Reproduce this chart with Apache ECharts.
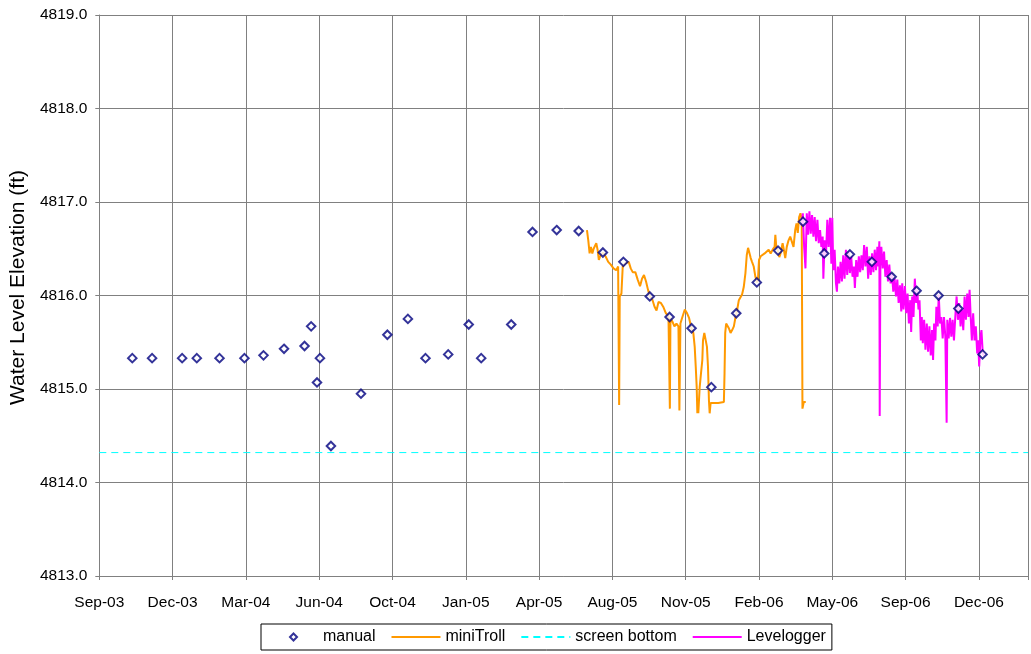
<!DOCTYPE html>
<html><head><meta charset="utf-8">
<script src="https://cdn.jsdelivr.net/npm/echarts@6/dist/echarts.min.js"></script>
<style>html,body{margin:0;padding:0;background:#fff}#c{width:1031px;height:654px}</style>
</head><body><div id="c"></div>
<script>
// All x values are days after 1 Sep 2003 (the axis origin); y values are elevations in ft.
const xTickLabels = ['Sep-03','Dec-03','Mar-04','Jun-04','Oct-04','Jan-05','Apr-05','Aug-05','Nov-05','Feb-06','May-06','Sep-06','Dec-06'];
const seriesNames = ['manual','miniTroll','screen bottom','Levelogger'];

const manualDays = [45,72,113,133,164,198,224,252,280,289,297,301,316,357,393,421,445,476,504,521,562,591,624,654,687,715,751,778,808,835,869,897,926,960,989,1024,1054,1081,1115,1145,1172,1205];
const manualLevels = [4815.33,4815.33,4815.33,4815.33,4815.33,4815.33,4815.36,4815.43,4815.46,4815.67,4815.07,4815.33,4814.39,4814.95,4815.58,4815.75,4815.33,4815.37,4815.69,4815.33,4815.69,4816.68,4816.70,4816.69,4816.46,4816.36,4815.99,4815.77,4815.65,4815.02,4815.81,4816.14,4816.48,4816.79,4816.45,4816.44,4816.36,4816.20,4816.05,4816.00,4815.86,4815.37];

const miniTroll = [[665.3,4816.70],[667.1,4816.59],[668.9,4816.45],[670.7,4816.52],[672.6,4816.45],[674.4,4816.50],[676.1,4816.49],[678.0,4816.56],[679.8,4816.49],[681.5,4816.38],[683.4,4816.42],[687.0,4816.46],[690.6,4816.42],[694.3,4816.36],[697.8,4816.33],[701.5,4816.29],[705.2,4816.27],[707.8,4816.31],[709.2,4814.83],[710.0,4815.99],[712.3,4816.02],[714.1,4816.31],[716.8,4816.34],[719.5,4816.33],[722.3,4816.36],[725.0,4816.29],[727.7,4816.25],[731.3,4816.25],[734.5,4816.17],[737.7,4816.10],[740.4,4816.18],[743.1,4816.22],[745.9,4816.15],[748.6,4816.06],[751.3,4815.99],[754.8,4815.95],[757.5,4815.88],[760.2,4815.84],[762.9,4815.93],[766.2,4815.92],[769.3,4815.88],[773.0,4815.81],[776.5,4815.78],[777.9,4815.77],[778.4,4814.79],[779.2,4815.76],[781.9,4815.72],[784.6,4815.67],[787.4,4815.70],[790.1,4815.67],[791.4,4814.77],[792.8,4815.70],[795.5,4815.77],[798.8,4815.85],[801.9,4815.81],[804.6,4815.76],[807.7,4815.65],[810.4,4815.60],[812.3,4815.45],[813.7,4815.24],[815.0,4815.02],[815.9,4814.74],[816.4,4814.88],[817.2,4814.74],[819.1,4815.02],[820.9,4815.17],[822.7,4815.31],[823.6,4815.52],[825.4,4815.60],[827.3,4815.58],[829.0,4815.45],[830.4,4815.24],[831.7,4814.88],[832.7,4814.74],[834.0,4814.85],[836.2,4814.85],[844.4,4814.85],[852.1,4814.86],[853.0,4815.17],[853.9,4815.60],[855.2,4815.70],[857.1,4815.71],[858.9,4815.65],[861.2,4815.60],[863.4,4815.63],[865.7,4815.67],[868.0,4815.77],[870.1,4815.84],[872.5,4815.95],[874.7,4815.97],[876.9,4816.01],[879.2,4816.09],[881.5,4816.24],[883.3,4816.43],[885.1,4816.51],[886.9,4816.49],[888.7,4816.40],[890.5,4816.36],[892.8,4816.31],[895.1,4816.20],[897.3,4816.14],[898.6,4816.17],[900.0,4816.38],[902.3,4816.42],[905.0,4816.42],[907.7,4816.45],[910.4,4816.43],[913.2,4816.49],[915.9,4816.45],[918.6,4816.49],[921.3,4816.52],[922.3,4816.65],[923.6,4816.52],[925.8,4816.48],[927.7,4816.41],[929.4,4816.45],[932.2,4816.56],[933.9,4816.49],[935.8,4816.40],[937.9,4816.52],[940.3,4816.59],[942.6,4816.63],[944.8,4816.65],[947.1,4816.52],[949.4,4816.70],[951.2,4816.77],[952.9,4816.67],[954.8,4816.84],[956.6,4816.88],[958.3,4816.81],[959.3,4814.79],[961.1,4814.86],[963.8,4814.86]];

const screenBottom = [[0,4814.32],[1267,4814.32]];

const levelogger = [[958.3,4816.75],[959.8,4816.88],[961.6,4816.52],[963.4,4816.29],[965.2,4816.88],[967.0,4816.65],[968.8,4816.90],[970.6,4816.66],[972.4,4816.86],[974.2,4816.63],[976.0,4816.84],[977.8,4816.58],[979.7,4816.81],[981.5,4816.56],[983.3,4816.70],[985.1,4816.52],[986.9,4816.63],[987.8,4816.18],[989.6,4816.59],[991.4,4816.43],[993.2,4816.81],[995.0,4816.52],[996.9,4816.83],[998.7,4816.34],[1000.0,4816.83],[1001.4,4816.27],[1003.2,4816.49],[1005.0,4816.13],[1006.3,4816.04],[1007.7,4816.31],[1009.5,4816.13],[1011.3,4816.36],[1013.1,4816.15],[1014.9,4816.43],[1016.7,4816.18],[1018.6,4816.49],[1020.4,4816.22],[1022.2,4816.47],[1024.0,4816.24],[1025.8,4816.42],[1027.6,4816.20],[1029.4,4816.31],[1030.8,4816.08],[1032.6,4816.38],[1034.4,4816.20],[1036.2,4816.42],[1038.0,4816.25],[1039.8,4816.43],[1041.6,4816.27],[1043.4,4816.54],[1045.2,4816.31],[1047.1,4816.52],[1048.9,4816.18],[1050.7,4816.42],[1052.5,4816.22],[1054.3,4816.45],[1056.1,4816.25],[1057.9,4816.49],[1059.7,4816.27],[1061.5,4816.52],[1062.9,4816.31],[1064.2,4816.58],[1064.7,4814.71],[1065.6,4816.31],[1066.9,4816.52],[1068.8,4816.29],[1070.6,4816.47],[1072.4,4816.20],[1074.2,4816.38],[1076.0,4816.15],[1077.8,4816.33],[1079.6,4816.13],[1081.4,4816.24],[1083.2,4816.04],[1085.0,4816.18],[1086.9,4815.99],[1088.7,4816.17],[1090.5,4815.92],[1092.3,4816.11],[1094.1,4815.83],[1095.4,4816.13],[1097.2,4815.85],[1099.1,4816.10],[1100.9,4815.81],[1102.7,4816.02],[1104.5,4815.70],[1106.3,4815.95],[1107.6,4815.61],[1109.0,4815.99],[1110.8,4815.77],[1112.6,4816.18],[1114.4,4815.92],[1115.8,4816.06],[1117.6,4815.85],[1119.0,4815.95],[1120.8,4815.52],[1122.1,4815.77],[1123.5,4815.49],[1125.3,4815.74],[1127.1,4815.42],[1128.9,4815.70],[1130.7,4815.40],[1132.5,4815.67],[1134.3,4815.36],[1136.1,4815.63],[1137.5,4815.31],[1138.9,4815.70],[1140.7,4815.52],[1142.0,4815.88],[1143.8,4815.67],[1145.2,4816.01],[1147.0,4815.70],[1148.8,4815.77],[1150.6,4815.54],[1152.4,4815.77],[1154.2,4815.56],[1156.0,4814.64],[1156.9,4815.74],[1158.8,4815.54],[1160.6,4815.76],[1162.4,4815.56],[1164.2,4815.74],[1166.0,4815.52],[1167.8,4815.77],[1169.6,4815.99],[1171.4,4815.74],[1173.2,4815.92],[1175.0,4815.67],[1176.8,4815.85],[1178.7,4815.63],[1180.5,4815.99],[1182.3,4815.74],[1184.1,4816.02],[1185.9,4815.77],[1187.3,4816.06],[1188.6,4815.81],[1190.4,4815.52],[1192.2,4815.81],[1194.0,4815.52],[1195.8,4815.67],[1197.7,4815.38],[1199.0,4815.52],[1200.4,4815.24],[1202.2,4815.56],[1203.5,4815.63],[1205.3,4815.38],[1207.2,4815.35]];

const FONT = 'Liberation Sans, Arial, sans-serif';
const GRID_GRAY = '#808080';
// legend glyph for "manual": small diamond centred in the 49x8 legend icon box
const DIAMOND_ICON = 'path://M0,0M49,8M24.5,0.5L28,4L24.5,7.5L21,4Z';

const chart = echarts.init(document.getElementById('c'), null, {renderer: 'canvas'});
chart.setOption({
  animation: false,
  backgroundColor: '#ffffff',
  grid: {left: 97, right: 0, top: 15, bottom: 78, containLabel: false},
  xAxis: {
    type: 'value', min: 0, max: 1267, interval: 100,
    axisLine: {show: true, lineStyle: {color: GRID_GRAY, width: 1}},
    axisTick: {show: true, inside: false, length: 4, lineStyle: {color: GRID_GRAY}},
    splitLine: {show: true, lineStyle: {color: GRID_GRAY, width: 1}},
    axisLabel: {
      margin: 19, color: '#000', fontFamily: FONT, fontSize: 15.5,
      formatter: v => (v % 100 === 0 && xTickLabels[v / 100] !== undefined) ? xTickLabels[v / 100] : ''
    }
  },
  yAxis: {
    type: 'value', min: 4813, max: 4819, interval: 1,
    name: 'Water Level Elevation (ft)', nameLocation: 'middle', nameGap: 66,
    nameTextStyle: {color: '#000', fontFamily: FONT, fontSize: 21, padding: [0, 0, 0, 16]},
    axisLine: {show: true, lineStyle: {color: GRID_GRAY, width: 1}},
    axisTick: {show: true, inside: false, length: 4, lineStyle: {color: GRID_GRAY}},
    splitLine: {show: true, lineStyle: {color: GRID_GRAY, width: 1}},
    axisLabel: {margin: 12, color: '#000', fontFamily: FONT, fontSize: 15.5, formatter: v => v.toFixed(1)}
  },
  legend: {
    data: [
      {name: seriesNames[0], icon: DIAMOND_ICON, itemStyle: {color: '#ffffff', borderColor: '#000080', borderWidth: 2}},
      {name: seriesNames[1], itemStyle: {opacity: 0}},
      {name: seriesNames[2], itemStyle: {opacity: 0}},
      {name: seriesNames[3], itemStyle: {opacity: 0}}
    ],
    left: 261, top: 624, orient: 'horizontal',
    itemWidth: 49, itemHeight: 8, itemGap: 15,
    padding: [5, 6, 5, 7],
    borderColor: '#000', borderWidth: 1, backgroundColor: '#fff',
    textStyle: {color: '#000', fontFamily: FONT, fontSize: 16}
  },
  series: [
    {
      name: seriesNames[0], type: 'scatter', z: 5,
      data: manualDays.map((d, i) => [d, manualLevels[i]]),
      symbol: 'diamond', symbolSize: 8.5,
      itemStyle: {color: '#ffffff', borderColor: '#000080', borderWidth: 2}
    },
    {
      name: seriesNames[1], type: 'line', data: miniTroll, symbol: 'none', showSymbol: false,
      lineStyle: {color: '#FF9900', width: 2}, itemStyle: {color: '#FF9900'}, z: 2
    },
    {
      name: seriesNames[2], type: 'line', data: screenBottom, symbol: 'none', showSymbol: false,
      lineStyle: {color: '#00FFFF', width: 1, type: [7, 5]}, itemStyle: {color: '#00FFFF'}, z: 2
    },
    {
      name: seriesNames[3], type: 'line', data: levelogger, symbol: 'none', showSymbol: false,
      lineStyle: {color: '#FF00FF', width: 2}, itemStyle: {color: '#FF00FF'}, z: 3
    }
  ]
});
</script>
</body></html>
